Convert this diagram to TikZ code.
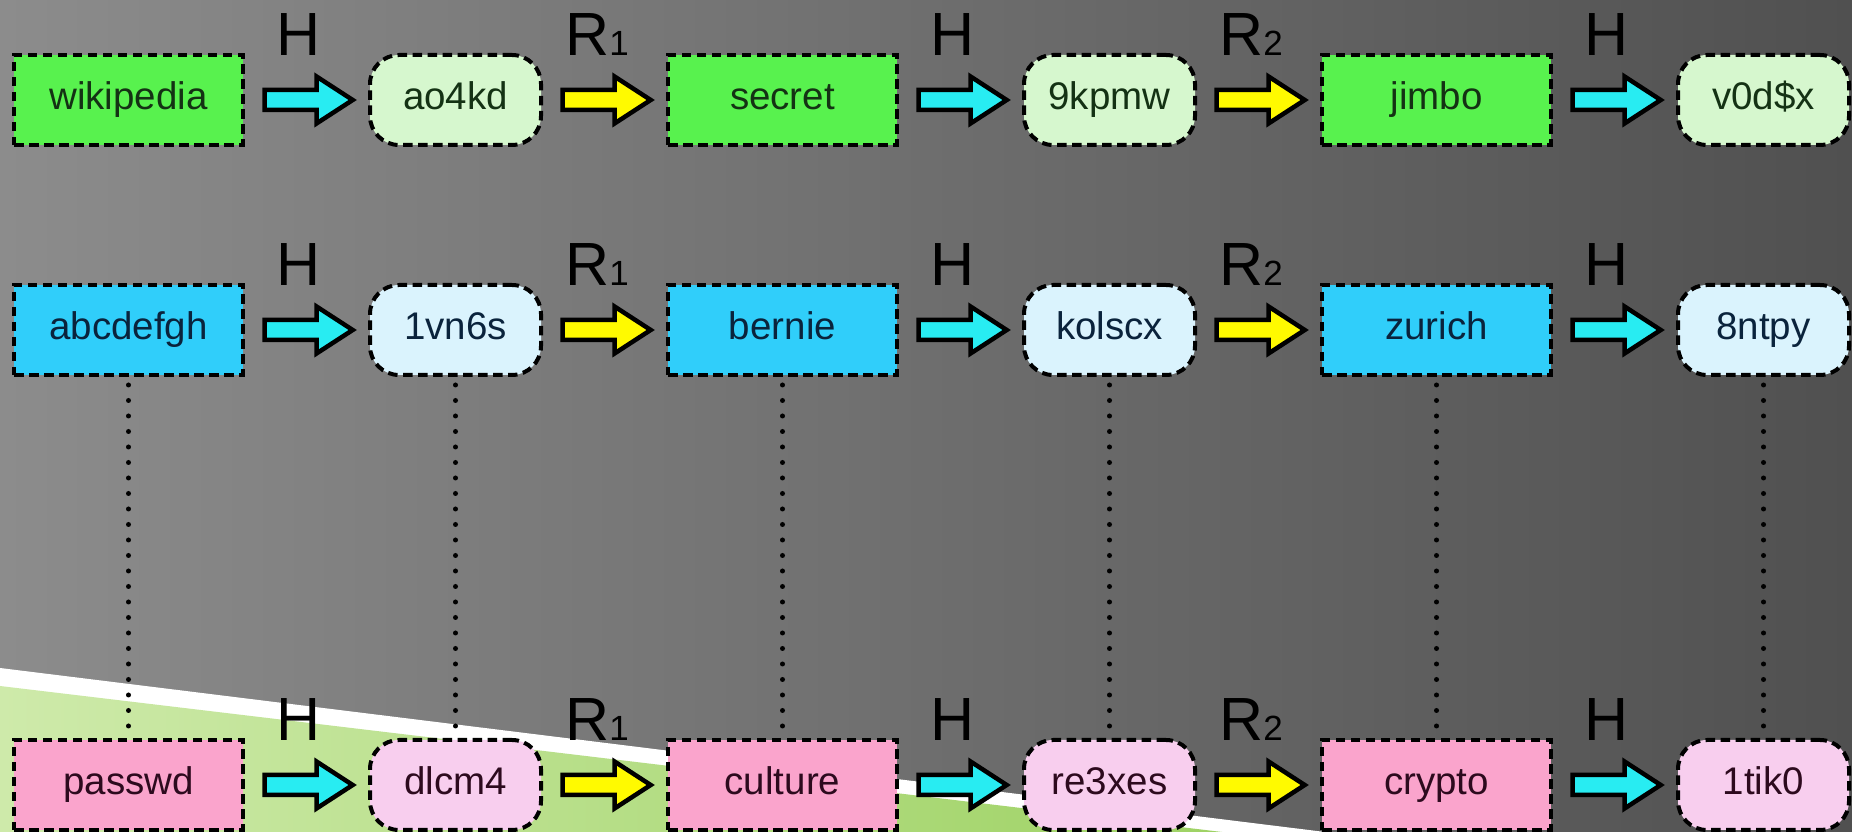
\documentclass[tikz,border=0pt]{standalone}
\usepackage{fontspec}
\setmainfont{Liberation Sans}
\usetikzlibrary{positioning,shapes.arrows}

\definecolor{bgleft}{RGB}{140,140,140}
\definecolor{bgright}{RGB}{80,80,80}
\definecolor{grasslight}{RGB}{206,234,170}
\definecolor{grassdark}{RGB}{158,210,100}
\definecolor{pwgreen}{RGB}{88,242,78}
\definecolor{hsgreen}{RGB}{214,247,206}
\definecolor{pwblue}{RGB}{48,206,250}
\definecolor{hsblue}{RGB}{218,243,253}
\definecolor{pwpink}{RGB}{250,164,204}
\definecolor{hspink}{RGB}{248,206,238}
\definecolor{hcyan}{RGB}{40,236,242}
\definecolor{ryellow}{RGB}{255,250,0}
\definecolor{gtext}{RGB}{20,50,20}
\definecolor{btext}{RGB}{10,35,60}
\definecolor{ptext}{RGB}{45,10,30}

\newcommand{\Rsub}[1]{R{\fontsize{35}{35}\selectfont #1}}

\begin{document}
\begin{tikzpicture}[
  x=1pt, y=1pt,
  pw/.style={draw=black, dash pattern=on 9.5pt off 5.5pt, line width=4pt,
             minimum width=229pt, minimum height=90pt, inner sep=0pt,
             text height=29pt, text depth=9pt,
             font=\fontsize{38.5}{41}\selectfont},
  hs/.style={pw, minimum width=171pt, rounded corners=29pt},
  harr/.style={single arrow, draw=black, line width=4.5pt, fill=hcyan,
               minimum height=88pt, inner xsep=0pt, inner ysep=7.75pt,
               single arrow head extend=13.5pt, single arrow tip angle=66,
               xshift=-5.5pt},
  rarr/.style={harr, fill=ryellow},
  lbl/.style={anchor=base, yshift=44pt, xshift=-7.5pt,
              font=\fontsize{61}{64}\selectfont},
  vdots/.style={line width=5pt, line cap=round, dash pattern=on 0pt off 15.5pt,
                shorten <=8pt, shorten >=8pt},
]
  % background
  \useasboundingbox (0,0) rectangle (1852,832);
  \shade[left color=bgleft, right color=bgright] (0,0) rectangle (1852,832);
  \fill[white] (0,164) -- (1325,0) -- (0,0) -- cycle;
  \shade[left color=grasslight, right color=grassdark] (0,146) -- (1222,0) -- (0,0) -- cycle;

  % first chain
  \node[pw, fill=pwgreen, text=gtext] (wiki) at (128.5,732) {wikipedia};
  \node[hs, fill=hsgreen, text=gtext, right=123pt of wiki] (aokd) {ao4kd};
  \node[pw, fill=pwgreen, text=gtext, right=123pt of aokd] (secret) {secret};
  \node[hs, fill=hsgreen, text=gtext, right=123pt of secret] (kpmw) {9kpmw};
  \node[pw, fill=pwgreen, text=gtext, right=123pt of kpmw] (jimbo) {jimbo};
  \node[hs, fill=hsgreen, text=gtext, right=123pt of jimbo] (vodx) {v0d\$x};

  % second chain
  \node[pw, fill=pwblue, text=btext, below=136pt of wiki] (abcd) {abcdefgh};
  \node[hs, fill=hsblue, text=btext, right=123pt of abcd] (vns) {1vn6s};
  \node[pw, fill=pwblue, text=btext, right=123pt of vns] (bernie) {bernie};
  \node[hs, fill=hsblue, text=btext, right=123pt of bernie] (kolscx) {kolscx};
  \node[pw, fill=pwblue, text=btext, right=123pt of kolscx] (zurich) {zurich};
  \node[hs, fill=hsblue, text=btext, right=123pt of zurich] (ntpy) {8ntpy};

  % third chain
  \node[pw, fill=pwpink, text=ptext, below=361pt of abcd] (passwd) {passwd};
  \node[hs, fill=hspink, text=ptext, right=123pt of passwd] (dlcm) {dlcm4};
  \node[pw, fill=pwpink, text=ptext, right=123pt of dlcm] (culture) {culture};
  \node[hs, fill=hspink, text=ptext, right=123pt of culture] (rexes) {re3xes};
  \node[pw, fill=pwpink, text=ptext, right=123pt of rexes] (crypto) {crypto};
  \node[hs, fill=hspink, text=ptext, right=123pt of crypto] (tik) {1tik0};

  % dotted links between second and third chain
  \draw[vdots] (abcd) -- (passwd);
  \draw[vdots] (vns) -- (dlcm);
  \draw[vdots] (bernie) -- (culture);
  \draw[vdots] (kolscx) -- (rexes);
  \draw[vdots] (zurich) -- (crypto);
  \draw[vdots] (ntpy) -- (tik);

  % hash and reduction steps
  \path (wiki) -- node[harr] (ha1) {} node[lbl] (lha1) {H} (aokd);
  \path (aokd) -- node[rarr] (ra1) {} node[lbl] (lra1) {\Rsub{1}} (secret);
  \path (secret) -- node[harr] (hb1) {} node[lbl] (lhb1) {H} (kpmw);
  \path (kpmw) -- node[rarr] (rb1) {} node[lbl] (lrb1) {\Rsub{2}} (jimbo);
  \path (jimbo) -- node[harr] (hc1) {} node[lbl] (lhc1) {H} (vodx);

  \path (abcd) -- node[harr] (ha2) {} node[lbl] (lha2) {H} (vns);
  \path (vns) -- node[rarr] (ra2) {} node[lbl] (lra2) {\Rsub{1}} (bernie);
  \path (bernie) -- node[harr] (hb2) {} node[lbl] (lhb2) {H} (kolscx);
  \path (kolscx) -- node[rarr] (rb2) {} node[lbl] (lrb2) {\Rsub{2}} (zurich);
  \path (zurich) -- node[harr] (hc2) {} node[lbl] (lhc2) {H} (ntpy);

  \path (passwd) -- node[harr] (ha3) {} node[lbl] (lha3) {H} (dlcm);
  \path (dlcm) -- node[rarr] (ra3) {} node[lbl] (lra3) {\Rsub{1}} (culture);
  \path (culture) -- node[harr] (hb3) {} node[lbl] (lhb3) {H} (rexes);
  \path (rexes) -- node[rarr] (rb3) {} node[lbl] (lrb3) {\Rsub{2}} (crypto);
  \path (crypto) -- node[harr] (hc3) {} node[lbl] (lhc3) {H} (tik);
\end{tikzpicture}
\end{document}
